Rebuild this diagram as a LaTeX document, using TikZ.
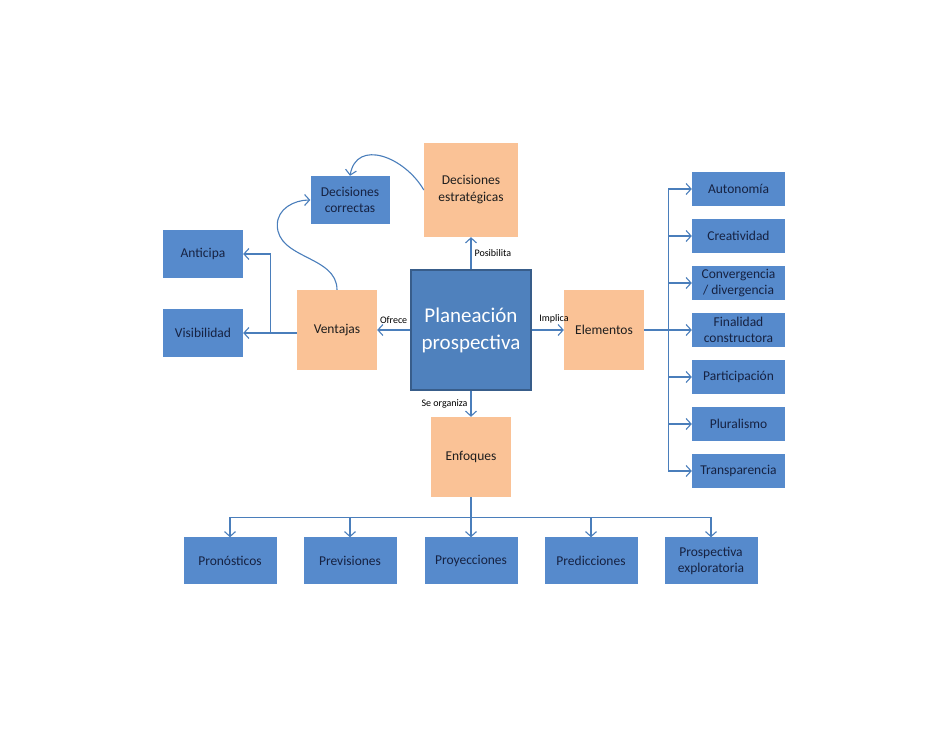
\documentclass[tikz,border=0pt]{standalone}
\usepackage{fontspec}
\setmainfont{Carlito}
\usetikzlibrary{shapes,arrows.meta,calc}

\definecolor{leafblue}{RGB}{86,138,204}
\definecolor{leaftext}{RGB}{22,34,66}
\definecolor{huborange}{RGB}{250,194,150}
\definecolor{hubtext}{RGB}{30,30,30}
\definecolor{coreblue}{RGB}{79,129,189}
\definecolor{coreborder}{RGB}{56,93,138}
\definecolor{linkblue}{RGB}{74,126,187}

\begin{document}
\begin{tikzpicture}[node distance=134pt, auto]
        % Define block styles
        \tikzstyle{leaf} = [rectangle, fill=leafblue, text=leaftext,
            align=center, minimum width=80pt, minimum height=48pt, inner sep=2pt,
            font=\fontsize{13.5}{16}\selectfont]
        \tikzstyle{elem} = [leaf, minimum width=93pt, minimum height=34pt]
        \tikzstyle{focus} = [leaf, minimum width=93pt, minimum height=47pt]
        \tikzstyle{hub} = [rectangle, fill=huborange, text=hubtext,
            align=center, minimum width=80pt, minimum height=80pt, inner sep=2pt,
            font=\fontsize{13.5}{17}\selectfont]
        \tikzstyle{core} = [rectangle, draw=coreborder, line width=2pt, fill=coreblue,
            text=white, align=center, minimum width=120pt, minimum height=120pt,
            inner sep=2pt, font=\fontsize{21}{27}\selectfont]
        \tikzstyle{line} = [draw=linkblue, line width=1.1pt,
            -{Straight Barb[length=5pt,width=11pt]}]
        \tikzstyle{lbl} = [font=\fontsize{10}{12}\selectfont, text=black, inner sep=3pt]

        \useasboundingbox (0,0) rectangle (942pt,728pt);

        % Nodes
        \node [core] (plan) at (471pt,398pt) {Planeación\\prospectiva};
        \node [hub, above of=plan, node distance=140pt, minimum width=94pt, minimum height=94pt] (estrategicas) {Decisiones\\estratégicas};
        \node [leaf, left of=estrategicas, node distance=121pt, yshift=-10pt, minimum width=79pt] (correctas) {Decisiones\\correctas};
        \node [hub, left of=plan] (ventajas) {Ventajas};
        \node [leaf, left of=ventajas, yshift=76pt] (anticipa) {Anticipa};
        \node [leaf, left of=ventajas, yshift=-3pt] (visibilidad) {Visibilidad};
        \node [hub, right of=plan, node distance=133pt] (elementos) {Elementos};
        \node [hub, below of=plan, node distance=127pt] (enfoques) {Enfoques};

        \node [elem, right of=elementos, node distance=134.5pt, yshift=141pt] (autonomia) {Autonomía};
        \node [elem, below of=autonomia, node distance=47pt] (creatividad) {Creatividad};
        \node [elem, below of=creatividad, node distance=47pt] (convergencia) {Convergencia\\/ divergencia};
        \node [elem, below of=convergencia, node distance=47pt] (finalidad) {Finalidad\\constructora};
        \node [elem, below of=finalidad, node distance=47pt] (participacion) {Participación};
        \node [elem, below of=participacion, node distance=47pt] (pluralismo) {Pluralismo};
        \node [elem, below of=pluralismo, node distance=47pt] (transparencia) {Transparencia};

        \node [focus, below of=enfoques, node distance=104pt] (proyecciones) {Proyecciones};
        \node [focus, left of=proyecciones, node distance=121pt] (previsiones) {Previsiones};
        \node [focus, left of=previsiones, node distance=120pt] (pronosticos) {Pronósticos};
        \node [focus, right of=proyecciones, node distance=120pt] (predicciones) {Predicciones};
        \node [focus, right of=predicciones, node distance=120pt] (exploratoria) {Prospectiva\\exploratoria};

        % Branch points
        \coordinate (vbranch) at ($(visibilidad.east)+(27pt,0)$);
        \coordinate (ebranch) at ($(elementos.east)+(24pt,0)$);
        \coordinate (ebus) at ($(enfoques.south)+(0,-20pt)$);
        \coordinate (bend) at ($(correctas.west)+(-33pt,-25pt)$);

        % Arrows
        \path [line] (plan) -- node[right, lbl] {Posibilita} (estrategicas);
        \path [line] (plan) -- node[above, lbl, yshift=3pt] {Ofrece} (ventajas);
        \path [line] (plan) -- node[above, lbl, yshift=3pt, xshift=6pt] {Implica} (elementos);
        \path [line] (plan) -- node[left, lbl] {Se organiza} (enfoques);

        \path [line] (ventajas.north) to[out=90, in=-90] (bend) to[out=90, in=180] (correctas.west);
        \path [line] (estrategicas.west) to[out=120, in=80, looseness=1.3] (correctas.north);

        \path [line] (ventajas.west |- vbranch) -- (visibilidad.east);
        \path [line] (vbranch) |- (anticipa);

        \path [line] (elementos) -- (ebranch) |- (autonomia);
        \path [line] (ebranch) |- (creatividad);
        \path [line] (ebranch) |- (convergencia);
        \path [line] (ebranch) -- (finalidad);
        \path [line] (ebranch) |- (participacion);
        \path [line] (ebranch) |- (pluralismo);
        \path [line] (ebranch) |- (transparencia);

        \path [line] (enfoques) -- (ebus) -| (pronosticos);
        \path [line] (ebus) -| (previsiones);
        \path [line] (ebus) -- (proyecciones);
        \path [line] (ebus) -| (predicciones);
        \path [line] (ebus) -| (exploratoria);
    \end{tikzpicture}
\end{document}
